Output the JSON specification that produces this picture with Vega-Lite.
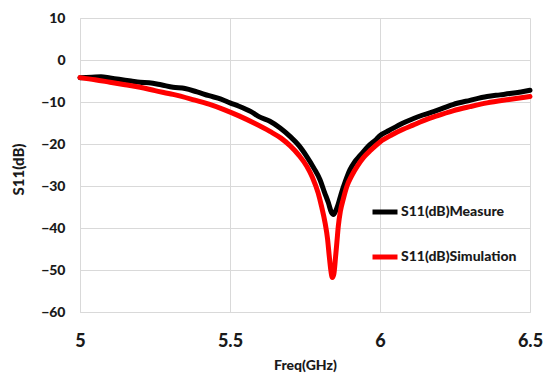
{
  "$schema": "https://vega.github.io/schema/vega-lite/v6.json",
  "width": 450,
  "height": 294,
  "autosize": {"type": "none"},
  "padding": {"left": 80, "top": 18, "right": 15, "bottom": 64},
  "background": "white",
  "config": {
    "view": {"stroke": null},
    "font": "Lato",
    "axis": {"gridColor": "#d9d9d9", "gridWidth": 1, "domainColor": "#d9d9d9", "ticks": false, "tickSize": 0, "labelColor": "#1a1a1a", "titleColor": "#1a1a1a", "labelFontWeight": 900, "titleFontWeight": 900, "labelFont": "Lato", "titleFont": "Lato"}
  },
  "data": {
    "values": [
      {"f": 5.00, "s": -4.2, "series": "S11(dB)Measure"},
      {"f": 5.04, "s": -4.1, "series": "S11(dB)Measure"},
      {"f": 5.07, "s": -4.0, "series": "S11(dB)Measure"},
      {"f": 5.10, "s": -4.3, "series": "S11(dB)Measure"},
      {"f": 5.13, "s": -4.6, "series": "S11(dB)Measure"},
      {"f": 5.17, "s": -5.0, "series": "S11(dB)Measure"},
      {"f": 5.20, "s": -5.3, "series": "S11(dB)Measure"},
      {"f": 5.23, "s": -5.4, "series": "S11(dB)Measure"},
      {"f": 5.27, "s": -5.9, "series": "S11(dB)Measure"},
      {"f": 5.31, "s": -6.5, "series": "S11(dB)Measure"},
      {"f": 5.35, "s": -6.8, "series": "S11(dB)Measure"},
      {"f": 5.39, "s": -7.6, "series": "S11(dB)Measure"},
      {"f": 5.43, "s": -8.5, "series": "S11(dB)Measure"},
      {"f": 5.47, "s": -9.3, "series": "S11(dB)Measure"},
      {"f": 5.50, "s": -10.2, "series": "S11(dB)Measure"},
      {"f": 5.53, "s": -11.0, "series": "S11(dB)Measure"},
      {"f": 5.57, "s": -12.3, "series": "S11(dB)Measure"},
      {"f": 5.60, "s": -13.6, "series": "S11(dB)Measure"},
      {"f": 5.633, "s": -14.6, "series": "S11(dB)Measure"},
      {"f": 5.667, "s": -16.2, "series": "S11(dB)Measure"},
      {"f": 5.70, "s": -18.2, "series": "S11(dB)Measure"},
      {"f": 5.73, "s": -20.4, "series": "S11(dB)Measure"},
      {"f": 5.756, "s": -23.0, "series": "S11(dB)Measure"},
      {"f": 5.78, "s": -25.8, "series": "S11(dB)Measure"},
      {"f": 5.80, "s": -28.5, "series": "S11(dB)Measure"},
      {"f": 5.815, "s": -31.5, "series": "S11(dB)Measure"},
      {"f": 5.828, "s": -34.0, "series": "S11(dB)Measure"},
      {"f": 5.838, "s": -36.3, "series": "S11(dB)Measure"},
      {"f": 5.845, "s": -36.8, "series": "S11(dB)Measure"},
      {"f": 5.852, "s": -36.0, "series": "S11(dB)Measure"},
      {"f": 5.86, "s": -34.5, "series": "S11(dB)Measure"},
      {"f": 5.87, "s": -32.0, "series": "S11(dB)Measure"},
      {"f": 5.885, "s": -28.8, "series": "S11(dB)Measure"},
      {"f": 5.90, "s": -26.1, "series": "S11(dB)Measure"},
      {"f": 5.915, "s": -24.3, "series": "S11(dB)Measure"},
      {"f": 5.933, "s": -22.8, "series": "S11(dB)Measure"},
      {"f": 5.96, "s": -20.6, "series": "S11(dB)Measure"},
      {"f": 5.989, "s": -18.8, "series": "S11(dB)Measure"},
      {"f": 6.00, "s": -18.0, "series": "S11(dB)Measure"},
      {"f": 6.03, "s": -16.8, "series": "S11(dB)Measure"},
      {"f": 6.077, "s": -15.0, "series": "S11(dB)Measure"},
      {"f": 6.11, "s": -14.0, "series": "S11(dB)Measure"},
      {"f": 6.143, "s": -13.1, "series": "S11(dB)Measure"},
      {"f": 6.19, "s": -12.0, "series": "S11(dB)Measure"},
      {"f": 6.243, "s": -10.6, "series": "S11(dB)Measure"},
      {"f": 6.30, "s": -9.6, "series": "S11(dB)Measure"},
      {"f": 6.357, "s": -8.7, "series": "S11(dB)Measure"},
      {"f": 6.40, "s": -8.3, "series": "S11(dB)Measure"},
      {"f": 6.433, "s": -8.0, "series": "S11(dB)Measure"},
      {"f": 6.47, "s": -7.6, "series": "S11(dB)Measure"},
      {"f": 6.50, "s": -7.2, "series": "S11(dB)Measure"},
      {"f": 5.00, "s": -4.2, "series": "S11(dB)Simulation"},
      {"f": 5.05, "s": -4.7, "series": "S11(dB)Simulation"},
      {"f": 5.10, "s": -5.3, "series": "S11(dB)Simulation"},
      {"f": 5.15, "s": -5.9, "series": "S11(dB)Simulation"},
      {"f": 5.20, "s": -6.5, "series": "S11(dB)Simulation"},
      {"f": 5.25, "s": -7.3, "series": "S11(dB)Simulation"},
      {"f": 5.31, "s": -8.2, "series": "S11(dB)Simulation"},
      {"f": 5.37, "s": -9.3, "series": "S11(dB)Simulation"},
      {"f": 5.43, "s": -10.5, "series": "S11(dB)Simulation"},
      {"f": 5.48, "s": -11.8, "series": "S11(dB)Simulation"},
      {"f": 5.53, "s": -13.3, "series": "S11(dB)Simulation"},
      {"f": 5.58, "s": -15.0, "series": "S11(dB)Simulation"},
      {"f": 5.633, "s": -17.0, "series": "S11(dB)Simulation"},
      {"f": 5.67, "s": -18.6, "series": "S11(dB)Simulation"},
      {"f": 5.70, "s": -20.4, "series": "S11(dB)Simulation"},
      {"f": 5.73, "s": -22.7, "series": "S11(dB)Simulation"},
      {"f": 5.756, "s": -25.3, "series": "S11(dB)Simulation"},
      {"f": 5.775, "s": -28.0, "series": "S11(dB)Simulation"},
      {"f": 5.794, "s": -31.7, "series": "S11(dB)Simulation"},
      {"f": 5.805, "s": -34.8, "series": "S11(dB)Simulation"},
      {"f": 5.817, "s": -38.8, "series": "S11(dB)Simulation"},
      {"f": 5.825, "s": -42.5, "series": "S11(dB)Simulation"},
      {"f": 5.831, "s": -46.8, "series": "S11(dB)Simulation"},
      {"f": 5.836, "s": -50.0, "series": "S11(dB)Simulation"},
      {"f": 5.841, "s": -51.8, "series": "S11(dB)Simulation"},
      {"f": 5.846, "s": -51.0, "series": "S11(dB)Simulation"},
      {"f": 5.852, "s": -46.8, "series": "S11(dB)Simulation"},
      {"f": 5.857, "s": -42.8, "series": "S11(dB)Simulation"},
      {"f": 5.861, "s": -39.6, "series": "S11(dB)Simulation"},
      {"f": 5.868, "s": -36.0, "series": "S11(dB)Simulation"},
      {"f": 5.878, "s": -33.0, "series": "S11(dB)Simulation"},
      {"f": 5.89, "s": -30.0, "series": "S11(dB)Simulation"},
      {"f": 5.906, "s": -27.5, "series": "S11(dB)Simulation"},
      {"f": 5.925, "s": -25.2, "series": "S11(dB)Simulation"},
      {"f": 5.944, "s": -23.3, "series": "S11(dB)Simulation"},
      {"f": 5.97, "s": -21.4, "series": "S11(dB)Simulation"},
      {"f": 6.00, "s": -19.5, "series": "S11(dB)Simulation"},
      {"f": 6.04, "s": -17.8, "series": "S11(dB)Simulation"},
      {"f": 6.077, "s": -16.5, "series": "S11(dB)Simulation"},
      {"f": 6.11, "s": -15.5, "series": "S11(dB)Simulation"},
      {"f": 6.143, "s": -14.5, "series": "S11(dB)Simulation"},
      {"f": 6.19, "s": -13.3, "series": "S11(dB)Simulation"},
      {"f": 6.243, "s": -12.1, "series": "S11(dB)Simulation"},
      {"f": 6.30, "s": -11.1, "series": "S11(dB)Simulation"},
      {"f": 6.357, "s": -10.2, "series": "S11(dB)Simulation"},
      {"f": 6.43, "s": -9.4, "series": "S11(dB)Simulation"},
      {"f": 6.50, "s": -8.7, "series": "S11(dB)Simulation"}
    ]
  },
  "mark": {"type": "line", "strokeWidth": 5, "interpolate": "monotone", "strokeCap": "round", "strokeJoin": "round"},
  "encoding": {
    "x": {
      "field": "f", "type": "quantitative",
      "scale": {"domain": [5, 6.5], "nice": false, "zero": false},
      "axis": {"values": [5, 5.5, 6, 6.5], "format": "~g", "title": "Freq(GHz)", "labelFontSize": 18, "labelPadding": 20, "titleFontSize": 14, "titleY": 53, "titleBaseline": "middle", "labelFlush": false}
    },
    "y": {
      "field": "s", "type": "quantitative",
      "scale": {"domain": [-60, 10], "nice": false, "zero": false},
      "axis": {"values": [-60, -50, -40, -30, -20, -10, 0, 10], "title": "S11(dB)", "labelFontSize": 14, "labelPadding": 15, "titleFontSize": 15, "titleX": -62, "titleY": 151, "titleAngle": -90, "titleAlign": "center", "titleBaseline": "middle"}
    },
    "color": {
      "field": "series", "type": "nominal",
      "scale": {"domain": ["S11(dB)Measure", "S11(dB)Simulation"], "range": ["#000000", "#ff0000"]},
      "legend": {"title": null, "orient": "none", "legendX": 290, "legendY": 179, "padding": 0, "symbolType": "stroke", "symbolSize": 625, "symbolStrokeWidth": 5, "rowPadding": 20, "labelFontSize": 14, "labelFontWeight": 900, "labelFont": "Lato", "labelColor": "#1a1a1a", "labelOffset": 1}
    },
    "order": {"field": "series"}
  }
}
